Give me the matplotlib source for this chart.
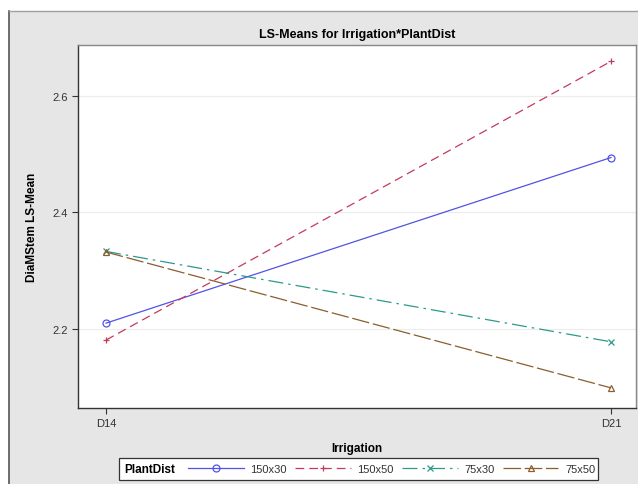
import matplotlib
matplotlib.use("Agg")
import matplotlib.pyplot as plt
from matplotlib.patches import Rectangle
from matplotlib.lines import Line2D

plt.rcParams['font.family'] = ['Liberation Sans', 'DejaVu Sans']

irrigation = ["D14", "D21"]
groups = ["150x30", "150x50", "75x30", "75x50"]
v_150x30 = [2.210, 2.494]
v_150x50 = [2.181, 2.659]
v_75x30 = [2.333, 2.178]
v_75x50 = [2.332, 2.099]
yticks = [2.2, 2.4, 2.6]

series = [v_150x30, v_150x50, v_75x30, v_75x50]
colors = ['#5252e6', '#c43a5c', '#2b9a8c', '#8a5e2e']
markers = ['o', '+', 'x', '^']
dashes = [None, (7, 4), (12, 4, 2, 4), (14, 3)]

W, H = 638, 485
fig = plt.figure(figsize=(W / 100, H / 100), dpi=100)
fig.patch.set_facecolor('white')

# gray panel
panel = Rectangle((9 / W, 0), 1 - 9 / W, (H - 12) / H, transform=fig.transFigure,
                  facecolor='#e6e6e6', edgecolor='none', zorder=-10)
fig.patches.append(panel)
fig.add_artist(Line2D([9 / W, 9 / W], [0, (H - 12) / H], transform=fig.transFigure,
                      color='#555555', lw=1.2, zorder=-5))
fig.add_artist(Line2D([9 / W, 1], [(H - 12) / H, (H - 12) / H], transform=fig.transFigure,
                      color='#a0a0a0', lw=1.0, zorder=-5))

ax = fig.add_axes([78 / W, (H - 409) / H, (636 - 78) / W, (409 - 46) / H])
ax.set_facecolor('white')

x = list(range(len(irrigation)))
handles = []
for vals, c, m, d, g in zip(series, colors, markers, dashes, groups):
    ln, = ax.plot(x, vals, color=c, lw=0.9, marker=m, markersize=5,
                  markerfacecolor='none', markeredgecolor=c, markeredgewidth=0.9,
                  label=g)
    if d is not None:
        ln.set_dashes(d)
    handles.append(ln)

ax.set_xlim(-28 / 505, 1 + 25 / 505)
ax.set_ylim(2.0645, 2.687)
ax.set_xticks(x)
ax.set_xticklabels(irrigation)
ax.set_yticks(yticks)
ax.set_yticklabels([f"{t:.1f}" for t in yticks])
ax.tick_params(axis='both', labelsize=8, colors='#333333', length=4, width=0.8)
ax.yaxis.grid(True, color='#ececec', lw=0.8)
ax.set_axisbelow(True)
for s in ['left', 'bottom']:
    ax.spines[s].set_color('#333333')
    ax.spines[s].set_linewidth(1.0)
for s in ['top', 'right']:
    ax.spines[s].set_color('#888888')
    ax.spines[s].set_linewidth(1.0)

ax.set_title("LS-Means for Irrigation*PlantDist", fontsize=9, fontweight='bold', pad=6)
ax.set_xlabel("Irrigation", fontsize=8.5, fontweight='bold', labelpad=10)
ax.set_ylabel("DiaMStem LS-Mean", fontsize=8.5, fontweight='bold', labelpad=10)

# legend
fig.patches.append(Rectangle((119 / W, (H - 481) / H), (598 - 119) / W, 22 / H,
                             transform=fig.transFigure, facecolor='white',
                             edgecolor='#333333', lw=0.9, zorder=1))
fig.text(124 / W, (H - 470) / H, "PlantDist", fontsize=8.5, fontweight='bold',
         va='center', ha='left', zorder=3)
leg = fig.legend(handles=handles, labels=groups, ncol=4, frameon=False,
                 loc='center left', bbox_to_anchor=(188 / W, (H - 470) / H),
                 fontsize=8, handlelength=5.0, handletextpad=0.6, columnspacing=0.75,
                 borderaxespad=0, borderpad=0)
for t in leg.get_texts():
    t.set_color('#333333')

fig.savefig("out.png", dpi=100)
